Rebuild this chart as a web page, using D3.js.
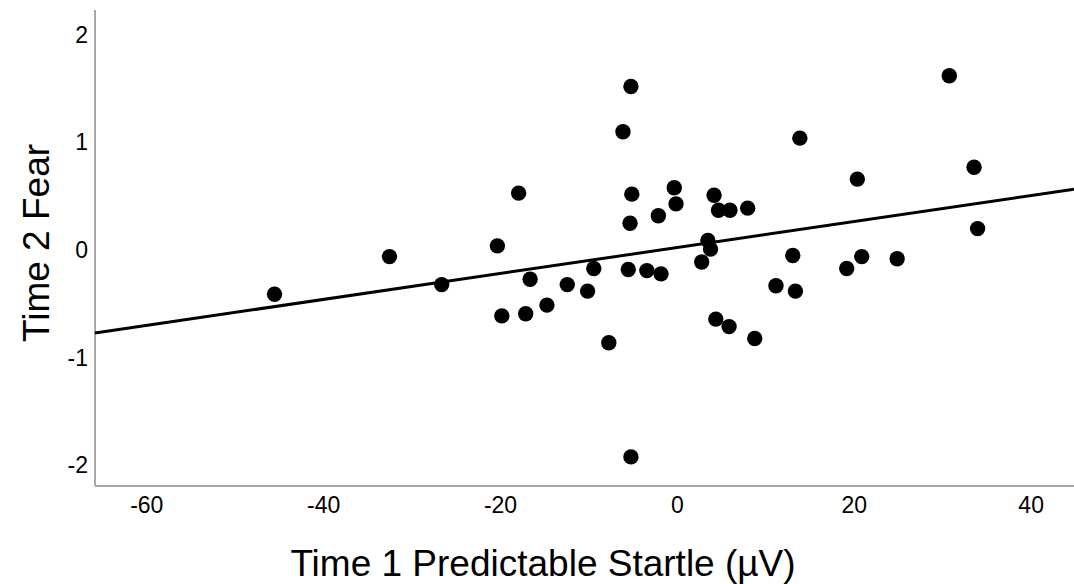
<!DOCTYPE html>
<html>
<head>
<meta charset="utf-8">
<script src="https://cdn.jsdelivr.net/npm/d3@7"></script>
<style>
  body { margin: 0; background: #fff; }
  svg { display: block; font-family: "Liberation Sans", Arial, sans-serif; }
</style>
</head>
<body>
<svg id="scatter" width="1074" height="584"></svg>
<script>
// values
let startle = [-45.5, -32.5, -26.6, -20.3, -17.9, -19.8, -16.6, -17.1, -14.7, -12.4,
    -10.1, -9.4, -7.7, -6.1, -5.2, -5.1, -5.3, -5.5, -5.2, -3.4,
    -2.1, -1.8, -0.3, -0.1, 2.8, 3.5, 3.8, 4.2, 4.7, 4.4,
    6.0, 5.9, 8.0, 8.8, 11.2, 13.1, 13.4, 13.9, 19.2, 20.4,
    20.9, 24.9, 30.8, 33.6, 34.0];
let fear = [-0.41, -0.06, -0.32, 0.04, 0.53, -0.61, -0.27, -0.59, -0.51, -0.32,
    -0.38, -0.17, -0.86, 1.10, 1.52, 0.52, 0.25, -0.18, -1.92, -0.19,
    0.32, -0.22, 0.58, 0.43, -0.11, 0.09, 0.01, 0.51, 0.37, -0.64,
    0.37, -0.71, 0.39, -0.82, -0.33, -0.05, -0.38, 1.04, -0.17, 0.66,
    -0.06, -0.08, 1.62, 0.77, 0.20];
let xTicks = [-60, -40, -20, 0, 20, 40];
let yTicks = [-2, -1, 0, 1, 2];
// fit line
let fitIntercept = 0.024;
let fitSlope = 0.01205;

let margin = {top: 10, right: 0, bottom: 98, left: 95};
let width = 1074 - margin.left - margin.right;
let height = 584 - margin.top - margin.bottom;

let svg = d3.select('#scatter');
let graph = svg.append('g').attr('transform', 'translate(' + margin.left + ',' + margin.top + ')');

let xScale = d3.scaleLinear().domain([-65.8, 44.9]).range([0, width]);
let yScale = d3.scaleLinear().domain([-2.19, 2.23]).range([height, 0]);

// plain hyphen minus like the original
let fmt = d => String(d);

// axes (no tick marks, grey domain lines)
let xAxis = graph.append('g')
    .attr('class', 'xAxis')
    .attr('transform', 'translate(0,' + height + ')')
    .call(d3.axisBottom(xScale).tickValues(xTicks).tickSize(0).tickPadding(11).tickFormat(fmt));
let yAxis = graph.append('g')
    .attr('class', 'yAxis')
    .call(d3.axisLeft(yScale).tickValues(yTicks).tickSize(0).tickPadding(7).tickFormat(fmt));

[xAxis, yAxis].forEach(ax => {
    ax.select('.domain').attr('stroke', '#a8a8a8').attr('stroke-width', 2);
    ax.selectAll('text')
        .attr('fill', '#000')
        .style('font-size', '23px')
        .style('font-family', '"Liberation Sans", Arial, sans-serif');
});
xAxis.select('.domain').attr('d', 'M0,0H' + width);
yAxis.select('.domain').attr('d', 'M0,0V' + height);

// regression line
let xd = xScale.domain();
let fit = xd.map(x => ({x: x, y: fitIntercept + fitSlope * x}));
let line = d3.line()
    .x(d => xScale(d.x))
    .y(d => yScale(d.y));
graph.append('path')
    .datum(fit)
    .attr('d', line)
    .attr('fill', 'none')
    .attr('stroke', '#000')
    .attr('stroke-width', 3);

// points
let points = startle.map((s, i) => ({x: s, y: fear[i]}));
graph.append('g')
    .selectAll('circle')
    .data(points)
    .enter()
    .append('circle')
    .attr('cx', d => xScale(d.x))
    .attr('cy', d => yScale(d.y))
    .attr('r', 7.7)
    .attr('fill', '#000');

// axis titles
svg.append('text')
    .attr('x', 543)
    .attr('y', 576)
    .attr('text-anchor', 'middle')
    .style('font-size', '37px')
    .text('Time 1 Predictable Startle (\u00B5V)');
svg.append('text')
    .attr('transform', 'translate(49,243) rotate(-90)')
    .attr('text-anchor', 'middle')
    .style('font-size', '37px')
    .text('Time 2 Fear');
</script>
</body>
</html>
